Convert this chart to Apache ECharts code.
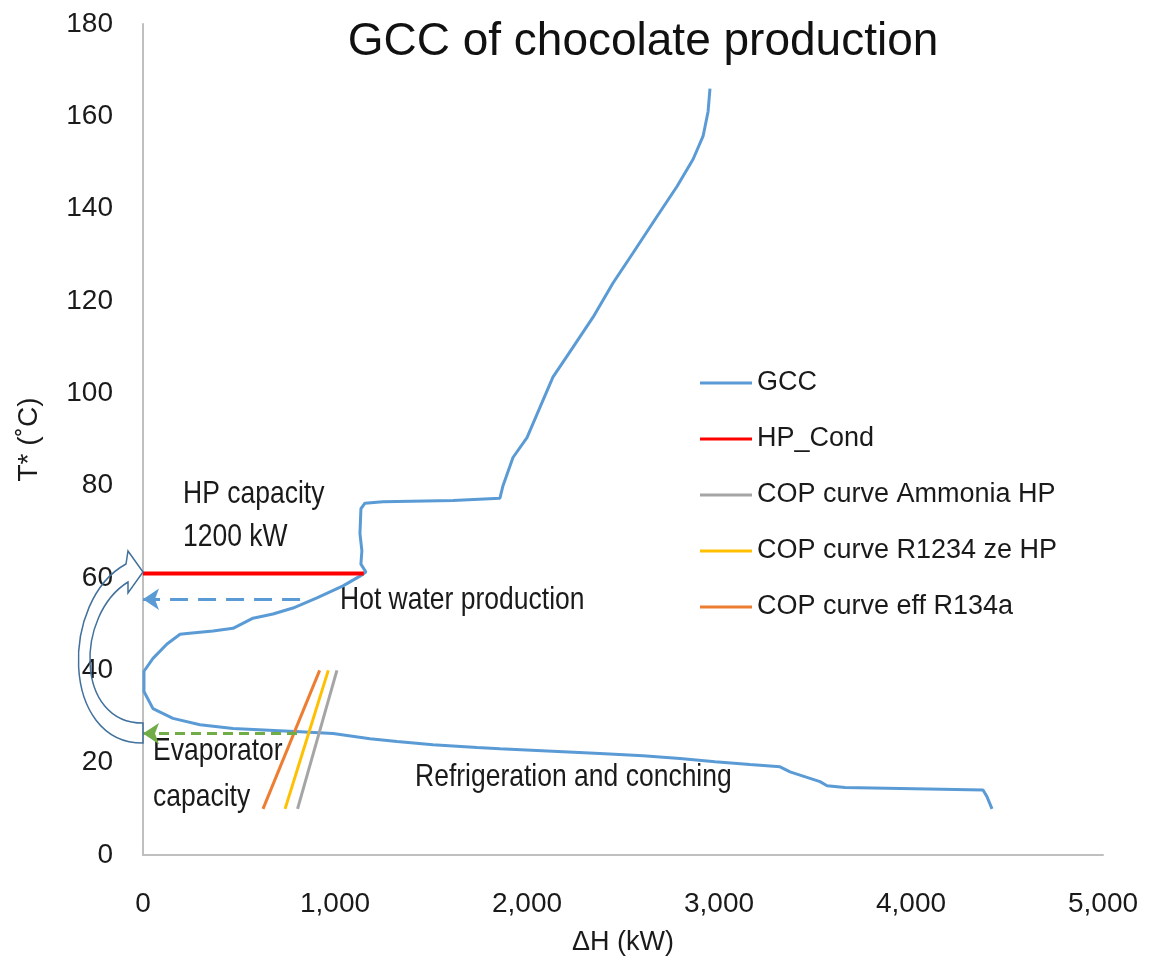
<!DOCTYPE html>
<html>
<head>
<meta charset="utf-8">
<script src="https://cdn.jsdelivr.net/npm/echarts@6/dist/echarts.min.js"></script>
<style>
  html, body { margin: 0; padding: 0; background: #fff; }
  #chart { width: 1156px; height: 963px; }
</style>
</head>
<body>
<div id="chart"></div>
<script>
// GCC curve (enthalpy kW, shifted temperature C)
const gccH = [2953, 2943, 2917, 2865, 2781, 2677, 2552, 2448, 2344, 2240, 2135, 2068, 2000, 1927, 1875, 1859,
  1615, 1250, 1156, 1135, 1130, 1140, 1135, 1161, 1130, 1042, 906, 781, 677, 573, 469, 365, 229, 193, 125,
  52, 5, 5, 52, 156, 297, 469, 818, 990, 1182, 1323, 1510, 1740, 1859, 2380, 2604, 2797, 2979, 3161, 3318,
  3370, 3526, 3563, 3656, 4089, 4375, 4396, 4422];
const gccT = [166, 161, 155.7, 150.7, 144.8, 138.3, 130.4, 123.9, 116.5, 110, 103.5, 97, 90.4, 86.1, 80, 77.3,
  76.8, 76.5, 76.2, 75, 69.6, 65.9, 63, 61.3, 60.4, 58.3, 55.7, 53.5, 52.2, 51.3, 49.1, 48.5, 48, 47.8, 45.7,
  42.6, 39.8, 35.4, 31.7, 29.6, 28.2, 27.4, 26.7, 26.3, 25.2, 24.6, 23.9, 23.3, 23, 22, 21.5, 20.9, 20.2, 19.6, 19.1,
  18, 15.9, 15, 14.6, 14.3, 14.1, 12.6, 10];

const hpCondH = [0, 1150];
const hpCondT = [61, 61];

const copAmmoniaH = [805, 1010];
const copAmmoniaT = [10, 40];
const copR1234H = [740, 965];
const copR1234T = [10, 40];
const copR134aH = [625, 920];
const copR134aT = [10, 40];

// dashed arrows (start -> end, arrow at end)
const hotWaterH = [818, 0];
const hotWaterT = [55.4, 55.4];
const evapH = [802, 0];
const evapT = [26.3, 26.3];

// curved arrow: tail temperature and tip temperature at dH = 0
const liftT = [26.4, 61.3];

const xTicks = [0, 1000, 2000, 3000, 4000, 5000];
const yTicks = [0, 20, 40, 60, 80, 100, 120, 140, 160, 180];

const FONT = 'Liberation Sans, Arial, sans-serif';
const TXT = '#1a1a1a';

function pairs(xs, ys) {
  return xs.map((x, i) => [x, ys[i]]);
}

var chart = echarts.init(document.getElementById('chart'));

function lineSeries(name, xs, ys, color, width) {
  return {
    name: name,
    type: 'line',
    data: pairs(xs, ys),
    showSymbol: false,
    symbol: 'none',
    color: color,
    lineStyle: { color: color, width: width },
    animation: false,
    z: 3
  };
}

function dashedArrow(xs, ys, color, dash) {
  return {
    type: 'lines',
    coordinateSystem: 'cartesian2d',
    data: [{ coords: pairs(xs, ys) }],
    symbol: ['none', 'arrow'],
    symbolSize: [14, 16],
    lineStyle: { color: color, width: 3, type: dash, opacity: 1 },
    silent: true,
    animation: false,
    z: 4
  };
}

// annotation text, slightly stretched vertically like the original
function note(text, left, top) {
  return {
    type: 'text', left: left, top: top, scaleY: 1.16,
    style: { text: text, font: '26.5px ' + FONT, fill: TXT }
  };
}

var option = {
  backgroundColor: '#fff',
  animation: false,
  title: {
    text: 'GCC of chocolate production',
    left: 638,
    top: 14,
    textAlign: 'center',
    textStyle: { fontFamily: FONT, fontSize: 46, fontWeight: 'normal', color: '#111' }
  },
  grid: { left: 143, right: 53, top: 24, bottom: 108 },
  legend: {
    data: ['GCC', 'HP_Cond', 'COP curve Ammonia HP', 'COP curve R1234 ze HP', 'COP curve eff R134a'],
    orient: 'vertical',
    left: 700,
    top: 368,
    padding: 0,
    itemGap: 26,
    itemWidth: 52,
    itemHeight: 3,
    icon: 'rect',
    textStyle: { fontFamily: FONT, fontSize: 27, color: TXT, lineHeight: 30 }
  },
  xAxis: {
    type: 'value',
    min: xTicks[0],
    max: xTicks[xTicks.length - 1],
    interval: 1000,
    name: 'ΔH (kW)',
    nameLocation: 'middle',
    nameGap: 74,
    nameTextStyle: { fontFamily: FONT, fontSize: 27, color: TXT },
    axisLine: { lineStyle: { color: '#bfbfbf', width: 2 } },
    axisTick: { show: false },
    splitLine: { show: false },
    axisLabel: {
      fontFamily: FONT, fontSize: 28, color: TXT, margin: 35,
      formatter: v => v.toLocaleString('en-US')
    }
  },
  yAxis: {
    type: 'value',
    min: yTicks[0],
    max: yTicks[yTicks.length - 1],
    interval: 20,
    name: 'T* (˚C)',
    nameLocation: 'middle',
    nameGap: 100,
    nameTextStyle: { fontFamily: FONT, fontSize: 28, color: TXT },
    axisLine: { show: true, lineStyle: { color: '#bfbfbf', width: 2 } },
    axisTick: { show: false },
    splitLine: { show: false },
    axisLabel: { fontFamily: FONT, fontSize: 28, color: TXT, margin: 30 }
  },
  series: [
    lineSeries('GCC', gccH, gccT, '#5B9BD5', 3),
    lineSeries('HP_Cond', hpCondH, hpCondT, '#FF0000', 4),
    lineSeries('COP curve Ammonia HP', copAmmoniaH, copAmmoniaT, '#A5A5A5', 3),
    lineSeries('COP curve R1234 ze HP', copR1234H, copR1234T, '#FFC000', 3),
    lineSeries('COP curve eff R134a', copR134aH, copR134aT, '#ED7D31', 3),
    dashedArrow(hotWaterH, hotWaterT, '#5B9BD5', [18, 10]),
    dashedArrow(evapH, evapT, '#70AD47', [10, 6]),
    {
      // hollow curved block arrow from evaporator level up to condenser level
      type: 'custom',
      data: [[0, liftT[0], liftT[1]]],
      silent: true,
      animation: false,
      z: 5,
      renderItem: function (params, api) {
        var t = api.coord([0, api.value(1)]);
        var h = api.coord([0, api.value(2)]);
        var p = function (a) { return a[0].toFixed(1) + ' ' + a[1].toFixed(1); };
        var b0 = [t[0], t[1] + 10];
        var j1 = [h[0] - 17, h[1] - 8];
        var k1 = [h[0] - 15, h[1] - 21];
        var k2 = [h[0] - 15, h[1] + 21];
        var j2 = [h[0] - 15, h[1] + 10];
        var b1 = [t[0], t[1] - 10];
        var d = 'M ' + p(b0) +
          ' C ' + p([t[0] - 83, t[1] + 10]) + ' ' + p([t[0] - 83, h[1] + 28]) + ' ' + p(j1) +
          ' L ' + p(k1) + ' L ' + p(h) + ' L ' + p(k2) + ' L ' + p(j2) +
          ' C ' + p([t[0] - 68, h[1] + 43]) + ' ' + p([t[0] - 68, t[1] - 10]) + ' ' + p(b1) + ' Z';
        return {
          type: 'path',
          shape: { pathData: d },
          style: { fill: 'rgba(255,255,255,0)', stroke: '#41719C', lineWidth: 1.5 }
        };
      }
    }
  ],
  graphic: [
    note('HP capacity', 183, 479),
    note('1200 kW', 183, 522),
    note('Hot water production', 340, 585),
    note('Evaporator', 153, 736),
    note('capacity', 153, 782),
    note('Refrigeration and conching', 415, 762)
  ]
};

chart.setOption(option);
</script>
</body>
</html>
